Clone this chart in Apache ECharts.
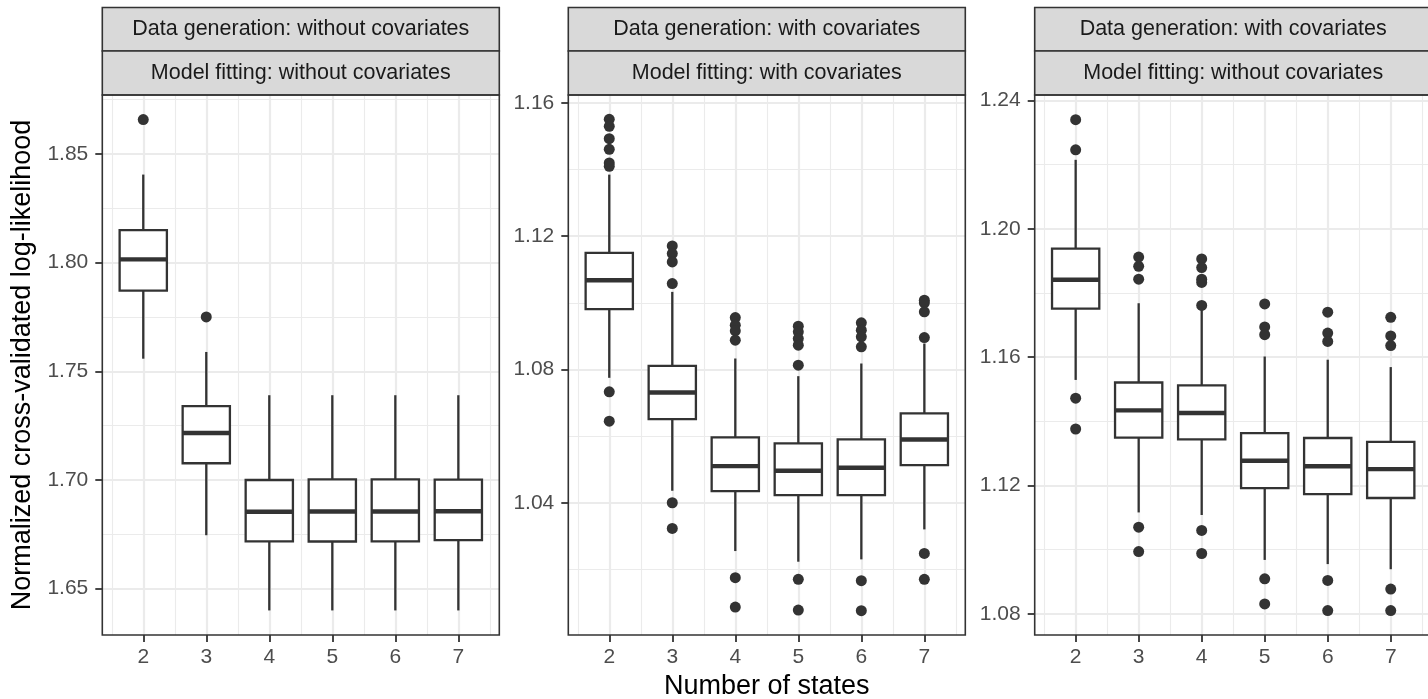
<!DOCTYPE html>
<html><head><meta charset="utf-8">
<script src="https://cdn.jsdelivr.net/npm/echarts@6/dist/echarts.min.js"></script>
<style>html,body{margin:0;padding:0;background:#fff}#c{width:1428px;height:699px}</style>
</head><body><div id="c"></div>
<script>
// ---------- data ----------
const categories = [2, 3, 4, 5, 6, 7];
const stripTop = ['Data generation: without covariates', 'Data generation: with covariates', 'Data generation: with covariates'];
const stripBottom = ['Model fitting: without covariates', 'Model fitting: with covariates', 'Model fitting: without covariates'];
const xTitle = 'Number of states';
const yTitle = 'Normalized cross-validated log-likelihood';

// box stats per category: [lower whisker, Q1, median, Q3, upper whisker]
const p1Box = [
  [1.7558, 1.7871, 1.8015, 1.8149, 1.8405],
  [1.6746, 1.7077, 1.7216, 1.7340, 1.7589],
  [1.6400, 1.6718, 1.6854, 1.7000, 1.7390],
  [1.6400, 1.6717, 1.6855, 1.7003, 1.7390],
  [1.6400, 1.6718, 1.6855, 1.7003, 1.7390],
  [1.6400, 1.6723, 1.6856, 1.7002, 1.7390]
];
const p1Out = [[1.8658], [1.7750], [], [], [], []];
const p2Box = [
  [1.0775, 1.0981, 1.1068, 1.1150, 1.1385],
  [1.0436, 1.0651, 1.0731, 1.0811, 1.1033],
  [1.0255, 1.0435, 1.0510, 1.0596, 1.0833],
  [1.0223, 1.0423, 1.0496, 1.0578, 1.0780],
  [1.0230, 1.0423, 1.0505, 1.0590, 1.0818],
  [1.0320, 1.0513, 1.0590, 1.0668, 1.0878]
];
const p2Out = [
  [1.1551, 1.1530, 1.1493, 1.1461, 1.1420, 1.1410, 1.0733, 1.0645],
  [1.1171, 1.1148, 1.1123, 1.1058, 1.0400, 1.0323],
  [1.0956, 1.0933, 1.0916, 1.0888, 1.0175, 1.0087],
  [1.0930, 1.0913, 1.0893, 1.0873, 1.0813, 1.0170, 1.0078],
  [1.0940, 1.0918, 1.0898, 1.0868, 1.0166, 1.0076],
  [1.1008, 1.1000, 1.0973, 1.0896, 1.0248, 1.0170]
];
const p3Box = [
  [1.1529, 1.1751, 1.1841, 1.1938, 1.2215],
  [1.1116, 1.1349, 1.1434, 1.1521, 1.1768],
  [1.1108, 1.1344, 1.1426, 1.1512, 1.1752],
  [1.0968, 1.1192, 1.1277, 1.1363, 1.1602],
  [1.0955, 1.1173, 1.1260, 1.1348, 1.1592],
  [1.0939, 1.1161, 1.1251, 1.1336, 1.1569]
];
const p3Out = [
  [1.2340, 1.2246, 1.1472, 1.1376],
  [1.1912, 1.1883, 1.1843, 1.1070, 1.0994],
  [1.1906, 1.1879, 1.1843, 1.1833, 1.1761, 1.1060, 1.0988],
  [1.1766, 1.1694, 1.1670, 1.0909, 1.0831],
  [1.1740, 1.1675, 1.1649, 1.0904, 1.0810],
  [1.1724, 1.1666, 1.1636, 1.0877, 1.0810]
];

// axis ticks
const xMinorTicks = [1.5, 2.5, 3.5, 4.5, 5.5, 6.5, 7.5];
const p1YTicks = [1.65, 1.70, 1.75, 1.80, 1.85];
const p1YMinor = [1.675, 1.725, 1.775, 1.825, 1.875];
const p1YRange = [1.6287, 1.8771];
const p2YTicks = [1.04, 1.08, 1.12, 1.16];
const p2YMinor = [1.02, 1.06, 1.10, 1.14];
const p2YRange = [1.0003, 1.1624];
const p3YTicks = [1.08, 1.12, 1.16, 1.20, 1.24];
const p3YMinor = [1.10, 1.14, 1.18, 1.22];
const p3YRange = [1.0734, 1.2417];
const xRange = [1.35, 7.65];

// ---------- layout ----------
const FONT = '"Liberation Sans", Arial, Helvetica, sans-serif';
const panelLeft = [102.3, 568.3, 1034.7];
const panelW = 397, panelTop = 95, panelH = 540;
const stripY = [7.5, 51, 95];
const BOX_W = 0.75;
const DARK = '#333333';
const panels = [
  { box: p1Box, out: p1Out, ticks: p1YTicks, minor: p1YMinor, range: p1YRange },
  { box: p2Box, out: p2Out, ticks: p2YTicks, minor: p2YMinor, range: p2YRange },
  { box: p3Box, out: p3Out, ticks: p3YTicks, minor: p3YMinor, range: p3YRange }
];
function renderBox(params, api) {
  const x = api.value(0);
  const lo = api.coord([x, api.value(1)]);
  const q1 = api.coord([x, api.value(2)]);
  const md = api.coord([x, api.value(3)]);
  const q3 = api.coord([x, api.value(4)]);
  const hi = api.coord([x, api.value(5)]);
  const w = api.size([BOX_W, 0])[0];
  const ls = { stroke: DARK, lineWidth: 2.3 };
  return { type: 'group', children: [
    { type: 'line', shape: { x1: lo[0], y1: lo[1], x2: q1[0], y2: q1[1] }, style: ls },
    { type: 'line', shape: { x1: q3[0], y1: q3[1], x2: hi[0], y2: hi[1] }, style: ls },
    { type: 'rect', shape: { x: q3[0] - w / 2, y: q3[1], width: w, height: q1[1] - q3[1] }, style: { fill: '#ffffff', stroke: DARK, lineWidth: 2.3 } },
    { type: 'line', shape: { x1: md[0] - w / 2, y1: md[1], x2: md[0] + w / 2, y2: md[1] }, style: { stroke: DARK, lineWidth: 4.4 } }
  ]};
}
const grid = [], xAxis = [], yAxis = [], series = [], graphic = [];
panels.forEach((p, i) => {
  const left = panelLeft[i];
  grid.push({ left: left, top: panelTop, width: panelW, height: panelH, containLabel: false, outerBoundsMode: 'none' });
  xAxis.push({
    gridIndex: i, type: 'value', min: xRange[0], max: xRange[1], z: 1,
    axisLine: { show: false },
    axisTick: { show: true, customValues: categories, length: 7, lineStyle: { color: DARK, width: 1.8 } },
    axisLabel: { customValues: categories, color: '#4D4D4D', fontSize: 21, fontFamily: FONT, margin: 12 },
    splitLine: { show: true, lineStyle: { color: '#EBEBEB', width: 2.2 } },
    name: i === 1 ? xTitle : '', nameLocation: 'middle', nameGap: 37,
    nameTextStyle: { fontSize: 27, color: '#000', fontFamily: FONT }
  });
  xAxis.push({
    gridIndex: i, type: 'value', min: xRange[0], max: xRange[1], position: 'bottom', z: 0,
    axisLine: { show: false }, axisTick: { show: false, customValues: xMinorTicks }, axisLabel: { show: false },
    splitLine: { show: true, lineStyle: { color: '#EBEBEB', width: 1.1 } }
  });
  yAxis.push({
    gridIndex: i, type: 'value', min: p.range[0], max: p.range[1], z: 1,
    axisLine: { show: false },
    axisTick: { show: true, customValues: p.ticks, length: 7, lineStyle: { color: DARK, width: 1.8 } },
    axisLabel: { customValues: p.ticks, color: '#4D4D4D', fontSize: 21, fontFamily: FONT, margin: 14, formatter: v => Number(v).toFixed(2) },
    splitLine: { show: true, lineStyle: { color: '#EBEBEB', width: 2.2 } },
    name: i === 0 ? yTitle : '', nameLocation: 'middle', nameGap: 66,
    nameTextStyle: { fontSize: 27, color: '#000', fontFamily: FONT }
  });
  yAxis.push({
    gridIndex: i, type: 'value', min: p.range[0], max: p.range[1], position: 'left', z: 0,
    axisLine: { show: false }, axisTick: { show: false, customValues: p.minor }, axisLabel: { show: false },
    splitLine: { show: true, lineStyle: { color: '#EBEBEB', width: 1.1 } }
  });
  series.push({ type: 'custom', xAxisIndex: 2 * i, yAxisIndex: 2 * i, z: 3, renderItem: renderBox,
    encode: { x: 0, y: [1, 2, 3, 4, 5] }, data: categories.map((c, k) => [c].concat(p.box[k])), silent: true });
  const outPts = [];
  categories.forEach((c, k) => p.out[k].forEach(v => outPts.push([c, v])));
  series.push({ type: 'scatter', xAxisIndex: 2 * i, yAxisIndex: 2 * i, z: 4, symbol: 'circle', symbolSize: 11,
    itemStyle: { color: DARK, opacity: 1 }, data: outPts, silent: true });
  graphic.push({ type: 'rect', z: 100, shape: { x: left, y: panelTop, width: panelW, height: panelH }, style: { fill: 'none', stroke: DARK, lineWidth: 1.6 } });
  [stripTop[i], stripBottom[i]].forEach((t, s) => {
    graphic.push({ type: 'rect', z: 90, shape: { x: left, y: stripY[s], width: panelW, height: stripY[s + 1] - stripY[s] }, style: { fill: '#D9D9D9', stroke: DARK, lineWidth: 1.6 } });
    graphic.push({ type: 'text', z: 101, x: left + panelW / 2, y: (stripY[s] + stripY[s + 1]) / 2,
      style: { text: t, fill: '#1A1A1A', font: '21.5px ' + FONT, textAlign: 'center', textVerticalAlign: 'middle', align: 'center', verticalAlign: 'middle' } });
  });
});
const chart = echarts.init(document.getElementById('c'), null, { renderer: 'canvas' });
chart.setOption({ animation: false, backgroundColor: '#ffffff', grid, xAxis, yAxis, series, graphic });
</script>
</body></html>
